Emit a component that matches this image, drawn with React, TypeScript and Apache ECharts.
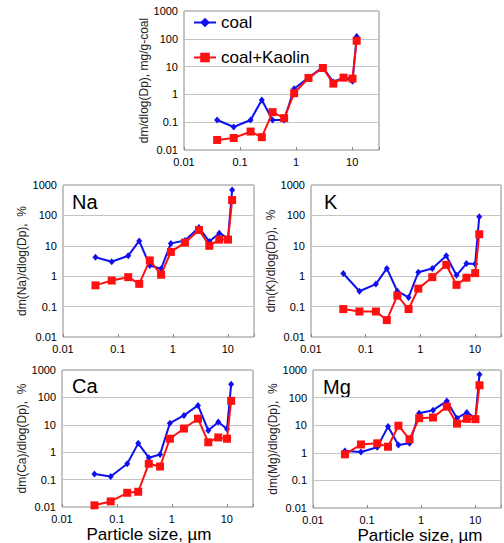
import React, { useEffect, useRef } from 'react';
import * as echarts from 'echarts';

// Particle size (µm), stage midpoints
const sizes = [0.039, 0.077, 0.154, 0.244, 0.38, 0.61, 0.92, 1.66, 2.99, 4.6, 7.0, 10.1, 12.0];

// Total mass, mg/g-coal
const totalCoal = [0.12, 0.067, 0.12, 0.63, 0.12, 0.12, 1.6, 4.0, 9.5, 2.8, 4.0, 3.0, 120];
const totalKaolin = [0.023, 0.027, 0.046, 0.029, 0.23, 0.14, 1.1, 3.9, 8.9, 2.45, 4.0, 3.7, 85];

// Na, %
const naCoal = [4.2, 3.0, 4.7, 14.5, 2.25, 1.75, 12, 15, 40, 13.8, 26, 18, 690];
const naKaolin = [0.5, 0.72, 0.93, 0.56, 3.3, 1.12, 6.3, 12.7, 33, 10, 16, 16, 320];

// K, %
const kCoal = [1.23, 0.32, 0.55, 1.8, 0.32, 0.2, 1.35, 1.8, 4.7, 1.07, 2.6, 2.5, 91];
const kKaolin = [0.083, 0.069, 0.069, 0.036, 0.23, 0.083, 0.39, 0.93, 2.37, 0.52, 0.89, 1.26, 24];

// Ca, %
const caCoal = [0.16, 0.13, 0.38, 2.1, 0.63, 0.83, 11.4, 22, 51, 6.2, 12.6, 7, 300];
const caKaolin = [0.0115, 0.016, 0.033, 0.036, 0.38, 0.3, 3.1, 7.3, 16.7, 2.3, 3.45, 3.1, 75];

// Mg, %
const mgCoal = [1.17, 1.07, 1.6, 8.9, 1.9, 2.2, 27, 35, 75, 18, 29, 18, 680];
const mgKaolin = [0.88, 2.0, 2.2, 1.66, 9.6, 3.1, 18, 19, 47, 11.4, 17, 16.5, 280];

const seriesNames = ['coal', 'coal+Kaolin'];
const yTickLabels = ['0.01', '0.1', '1', '10', '100', '1000'];
const xTickLabels = ['0.01', '0.1', '1', '10'];

const panels = [
  { label: '', yName: 'dm/dlog(Dp), mg/g-coal', coal: totalCoal, kaolin: totalKaolin,
    grid: { left: 184, top: 11, width: 195, height: 139 }, nameGap: 31, labelPos: null },
  { label: 'Na', yName: 'dm(Na)/dlog(Dp),  %', coal: naCoal, kaolin: naKaolin,
    grid: { left: 63, top: 185, width: 191, height: 152 }, nameGap: 35, labelPos: [72, 192] },
  { label: 'K', yName: 'dm(K)/dlog(Dp),  %', coal: kCoal, kaolin: kKaolin,
    grid: { left: 311, top: 185, width: 192, height: 152 }, nameGap: 33, labelPos: [324, 192] },
  { label: 'Ca', yName: 'dm(Ca)/dlog(Dp),  %', coal: caCoal, kaolin: caKaolin,
    grid: { left: 62, top: 370, width: 191, height: 137 }, nameGap: 34, labelPos: [72, 376] },
  { label: 'Mg', yName: 'dm(Mg)/dlog(Dp),  %', coal: mgCoal, kaolin: mgKaolin,
    grid: { left: 313, top: 370, width: 190, height: 138 }, nameGap: 32, labelPos: [323, 377] },
];

const FONT = "'Liberation Sans', Arial, sans-serif";

export default function App() {
  const ref = useRef<HTMLDivElement>(null);
  useEffect(() => {
    document.body.style.margin = '0';
    if (!ref.current) return;
    const chart = echarts.init(ref.current, undefined, { renderer: 'svg' });
    const grids: any[] = [];
    const xAxes: any[] = [];
    const yAxes: any[] = [];
    const series: any[] = [];
    const graphics: any[] = [];
    panels.forEach((p, i) => {
      grids.push({ ...p.grid, show: true, borderColor: '#8a8a8a', borderWidth: 1, backgroundColor: '#fff' });
      xAxes.push({
        type: 'log', logBase: 10, gridIndex: i, min: 0.01, max: 30,
        axisLine: { show: false },
        axisTick: { show: true, inside: true, length: 3, lineStyle: { color: '#8a8a8a' } },
        splitLine: { show: false },
        axisLabel: {
          margin: 6, fontSize: 11, color: '#000', fontFamily: FONT,
          formatter: (v: number) => {
            const e = Math.round(Math.log10(v));
            return Math.abs(Math.log10(v) - e) < 1e-6 && e <= 1 ? xTickLabels[e + 2] : '';
          },
        },
      });
      yAxes.push({
        type: 'log', logBase: 10, gridIndex: i, min: 0.01, max: 1000,
        name: p.yName, nameLocation: 'middle', nameGap: p.nameGap,
        nameTextStyle: { fontSize: 12, color: '#222', fontFamily: FONT },
        axisLine: { show: false },
        axisTick: { show: false },
        splitLine: { show: true, lineStyle: { color: '#c4c4c4', width: 1 } },
        axisLabel: {
          margin: 6, fontSize: 11, color: '#000', fontFamily: FONT,
          formatter: (v: number) => yTickLabels[Math.round(Math.log10(v)) + 2],
        },
      });
      series.push({
        name: seriesNames[0], type: 'line', xAxisIndex: i, yAxisIndex: i,
        data: sizes.map((s, k) => [s, p.coal[k]]),
        symbol: 'diamond', symbolSize: [6, 7],
        lineStyle: { color: '#1010ee', width: 2 },
        itemStyle: { color: '#1010ee' },
        z: 2,
      });
      series.push({
        name: seriesNames[1], type: 'line', xAxisIndex: i, yAxisIndex: i,
        data: sizes.map((s, k) => [s, p.kaolin[k]]),
        symbol: 'rect', symbolSize: 8,
        lineStyle: { color: '#ff1010', width: 2 },
        itemStyle: { color: '#ff1010' },
        z: 3,
      });
      if (p.labelPos) {
        graphics.push({
          type: 'text', x: p.labelPos[0], y: p.labelPos[1],
          style: { text: p.label, fontSize: 20, fill: '#000', fontFamily: FONT },
        });
      }
    });
    graphics.push({
      type: 'text', x: 149, y: 534,
      style: { text: 'Particle size, µm', fontSize: 17, fill: '#000', fontFamily: FONT, textAlign: 'center', textVerticalAlign: 'middle' },
    });
    graphics.push({
      type: 'text', x: 420, y: 535,
      style: { text: 'Particle size, µm', fontSize: 17, fill: '#000', fontFamily: FONT, textAlign: 'center', textVerticalAlign: 'middle' },
    });
    chart.setOption({
      animation: false,
      backgroundColor: '#fff',
      grid: grids,
      xAxis: xAxes,
      yAxis: yAxes,
      series,
      legend: {
        data: seriesNames, orient: 'vertical', left: 193, top: 14, padding: 0,
        itemWidth: 22, itemHeight: 12, itemGap: 18,
        textStyle: { fontSize: 17, color: '#000', fontFamily: FONT },
      },
      graphic: graphics,
    });
    return () => chart.dispose();
  }, []);
  return <div ref={ref} style={{ width: 504, height: 543 }} />;
}
